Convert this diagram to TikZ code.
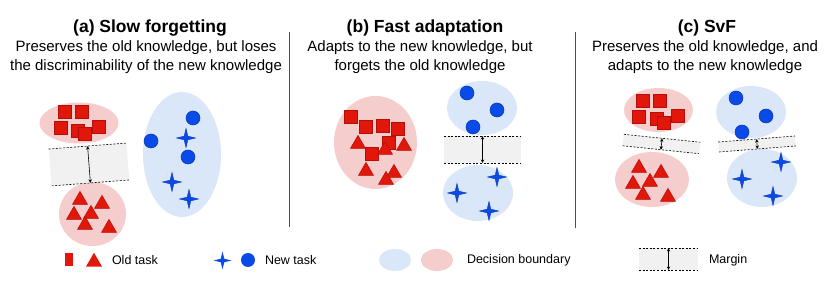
\documentclass[tikz,border=0pt]{standalone}
\usepackage{fontspec}
\setmainfont{Liberation Sans}
\usepackage{xcolor}
\usetikzlibrary{shapes.geometric, arrows.meta}

\definecolor{oldred}{HTML}{E2170B}
\definecolor{oldedge}{HTML}{B50D07}
\definecolor{newblue}{HTML}{0A4BE8}
\definecolor{newedge}{HTML}{0733B0}
\definecolor{oldzone}{HTML}{F5CDCC}
\definecolor{newzone}{HTML}{DAE7F9}
\definecolor{gapfill}{HTML}{F1F1F1}

\begin{document}
\begin{tikzpicture}[
    x=1pt, y=-1pt,
    every node/.style={inner sep=0pt, outer sep=0pt},
    title/.style={font=\fontsize{17.5}{20}\selectfont\bfseries},
    caption/.style={font=\fontsize{15}{19}\selectfont, align=center},
    legendtext/.style={font=\fontsize{12.5}{14}\selectfont, anchor=west},
    redzone/.style={ellipse, fill=oldzone},
    bluezone/.style={ellipse, fill=newzone},
    gapband/.style={rectangle, fill=gapfill},
    gapline/.style={dashed, dash pattern=on 2pt off 1.6pt, line width=0.6pt},
    gaparrow/.style={{Stealth[length=3.6pt,width=3.4pt]}-{Stealth[length=3.6pt,width=3.4pt]}, line width=0.6pt},
    sq/.style={rectangle, draw=oldedge, fill=oldred, line width=0.5pt, minimum size=13pt},
    tri/.style={regular polygon, regular polygon sides=3, draw=oldedge, fill=oldred,
                line width=0.5pt, minimum size=17.3pt},
    dot/.style={circle, draw=newedge, fill=newblue, line width=0.5pt, minimum size=14pt},
    spark/.style={star, star points=4, star point ratio=3.6, draw=newedge, fill=newblue,
                  line width=0.4pt, minimum size=19pt},
    sep/.style={draw=black!70, line width=0.8pt}
]
\useasboundingbox (0,0) rectangle (831,288);

% Titles and captions
\node[title] (ta) at (150,28) {(a) Slow forgetting};
\node[caption] (ca) at (146,57) {Preserves the old knowledge, but loses\\the discriminability of the new knowledge};
\node[title] (tb) at (425,28) {(b) Fast adaptation};
\node[caption] (cb) at (420,57) {Adapts to the new knowledge, but\\forgets the old knowledge};
\node[title] (tc) at (707,28) {(c) SvF};
\node[caption] (cc) at (705,57) {Preserves the old knowledge, and\\adapts to the new knowledge};

% Separators
\draw[sep] (289,32) -- (289,227);
\draw[sep] (575,32) -- (575,228);

% (a) decision boundaries
\node[redzone, minimum width=79pt, minimum height=41pt] (a-old1) at (79,123) {};
\node[redzone, minimum width=67pt, minimum height=64pt] (a-old2) at (92.5,214) {};
\node[bluezone, minimum width=78pt, minimum height=125pt] (a-new) at (182,154.5) {};

% (a) margin
\node[gapband, minimum width=78pt, minimum height=37pt, rotate=4.4] (a-gap) at (89,164.5) {};
\draw[gapline] (a-gap.north west) -- (a-gap.north east);
\draw[gapline] (a-gap.south west) -- (a-gap.south east);
\draw[gaparrow] (a-gap.north) -- (a-gap.south);

% (a) samples
\foreach \x/\y [count=\i] in {65/112, 82/112, 61/128, 78/131, 99/127, 85/134}
    \node[sq] (a-sq\i) at (\x,\y) {};
\foreach \x/\y [count=\i] in {80/198, 102/202, 74/213, 91/212, 85/223, 109/226}
    \node[tri] (a-tri\i) at (\x,\y+2) {};
\foreach \x/\y [count=\i] in {193/118, 151/141, 188/157}
    \node[dot] (a-dot\i) at (\x,\y) {};
\foreach \x/\y [count=\i] in {186/138, 172/182, 189/199}
    \node[spark] (a-star\i) at (\x,\y) {};

% (b) decision boundaries
\node[redzone, minimum width=83pt, minimum height=93pt] (b-old) at (375.5,142.5) {};
\node[bluezone, minimum width=70pt, minimum height=54pt] (b-new1) at (482,108) {};
\node[bluezone, minimum width=70pt, minimum height=56pt] (b-new2) at (478,193) {};

% (b) margin
\node[gapband, minimum width=77pt, minimum height=27pt] (b-gap) at (482.5,149.5) {};
\draw[gapline] (b-gap.north west) -- (b-gap.north east);
\draw[gapline] (b-gap.south west) -- (b-gap.south east);
\draw[gaparrow] (b-gap.north) -- (b-gap.south);

% (b) samples
\foreach \x/\y [count=\i] in {351/117, 366/127, 383/126, 398/129, 389/143, 372/154}
    \node[sq] (b-sq\i) at (\x,\y) {};
\foreach \x/\y [count=\i] in {358/142, 385/148, 404/144, 366/169, 394/171, 386/178}
    \node[tri] (b-tri\i) at (\x,\y+2) {};
\foreach \x/\y [count=\i] in {467/93, 497/110, 473/127}
    \node[dot] (b-dot\i) at (\x,\y) {};
\foreach \x/\y [count=\i] in {497/177, 457/193, 489/211}
    \node[spark] (b-star\i) at (\x,\y) {};

% (c) decision boundaries
\node[redzone, minimum width=69pt, minimum height=44pt] (c-old1) at (658.5,110) {};
\node[redzone, minimum width=74pt, minimum height=55pt] (c-old2) at (652,179.5) {};
\node[bluezone, minimum width=70pt, minimum height=52pt] (c-new1) at (751,112) {};
\node[bluezone, minimum width=70pt, minimum height=58pt] (c-new2) at (762,178) {};

% (c) margins
\node[gapband, minimum width=77pt, minimum height=11.5pt, rotate=-5.9] (c-gap1) at (661.5,144) {};
\draw[gapline] (c-gap1.north west) -- (c-gap1.north east);
\draw[gapline] (c-gap1.south west) -- (c-gap1.south east);
\draw[gaparrow] (c-gap1.north) -- (c-gap1.south);
\node[gapband, minimum width=77pt, minimum height=10pt, rotate=4.5] (c-gap2) at (757,144) {};
\draw[gapline] (c-gap2.north west) -- (c-gap2.north east);
\draw[gapline] (c-gap2.south west) -- (c-gap2.south east);
\draw[gaparrow] (c-gap2.north) -- (c-gap2.south);

% (c) samples
\foreach \x/\y [count=\i] in {643/101, 660/101, 639/117, 657/119, 678/116, 664/123}
    \node[sq] (c-sq\i) at (\x,\y) {};
\foreach \x/\y [count=\i] in {639/166, 661/171, 633/182, 650/180, 643/193, 668/195}
    \node[tri] (c-tri\i) at (\x,\y+2) {};
\foreach \x/\y [count=\i] in {736/98, 766/116, 742/132}
    \node[dot] (c-dot\i) at (\x,\y) {};
\foreach \x/\y [count=\i] in {781/162, 742/179, 773/196}
    \node[spark] (c-star\i) at (\x,\y) {};

% Legend
\node[sq, draw=none, minimum width=8pt, minimum height=13pt] (l-sq) at (69,260) {};
\node[tri, draw=none, minimum size=18.5pt] (l-tri) at (94,262) {};
\node[legendtext] (l-old) at (112,260) {Old task};
\node[spark, draw=none, minimum size=18pt] (l-star) at (222.5,260.5) {};
\node[dot, draw=none] (l-dot) at (248,260) {};
\node[legendtext] (l-new) at (265,260) {New task};
\node[bluezone, minimum width=32pt, minimum height=22pt] (l-blue) at (395,260) {};
\node[redzone, minimum width=32pt, minimum height=22pt] (l-red) at (437,260) {};
\node[legendtext] (l-zone) at (467,260) {Decision boundary};
\node[gapband, minimum width=59pt, minimum height=22pt] (l-gap) at (668.5,259) {};
\draw[gapline] (l-gap.north west) -- (l-gap.north east);
\draw[gapline] (l-gap.south west) -- (l-gap.south east);
\draw[gaparrow] (l-gap.north) -- (l-gap.south);
\node[legendtext] (l-margin) at (709,260) {Margin};

\end{tikzpicture}
\end{document}
